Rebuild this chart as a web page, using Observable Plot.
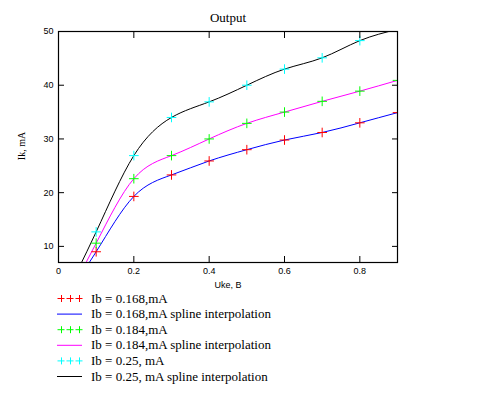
<!DOCTYPE html>
<html><head><meta charset="utf-8">
<script src="https://cdn.jsdelivr.net/npm/d3@7"></script>
<script src="https://cdn.jsdelivr.net/npm/@observablehq/plot@0.6"></script>
<style>
body{margin:0;background:#fff}
#chart{position:relative;width:484px;height:395px;background:#fff}
</style>
</head><body><div id="chart"></div>
<script>
// Uke, B
const uke = [0, 0.1, 0.2, 0.3, 0.4, 0.5, 0.6, 0.7, 0.8, 0.9];
// Ik, mA (first value lies below the visible range; estimated from where the curve leaves the frame)
const ik168 = [-1.4, 9.0, 19.3, 23.3, 25.9, 28.0, 29.8, 31.2, 33.0, 34.9];
const ik184 = [-2.5, 10.6, 22.6, 26.9, 30.0, 32.9, 35.0, 37.0, 38.9, 40.9];
const ik250 = [-1.6, 12.7, 26.9, 34.0, 36.9, 40.0, 43.0, 45.1, 48.3, 50.4];
const seriesIb = ["0.168,", "0.184,", "0.25, "];
const pointColors = ["#ff0000", "#00ff00", "#00ffff"];
const lineColors = ["#0000ff", "#ff00ff", "#000000"];
const xTicks = [0, 0.2, 0.4, 0.6, 0.8];
const yTicks = [10, 20, 30, 40, 50];
const xDomain = [0, 0.9];
const yDomain = [7, 50];
const titleText = "Output";
const xLabel = "Uke, B";
const yLabel = "Ik, mA";

const allSeries = [ik168, ik184, ik250];
const rows = [];
allSeries.forEach((s, k) => s.forEach((v, i) => rows.push({k, x: uke[i], y: v})));

const noText = () => "";
const plot = Plot.plot({
  width: 484, height: 395,
  marginLeft: 58, marginRight: 87, marginTop: 31, marginBottom: 133,
  style: {fontFamily: "Liberation Sans, Arial, sans-serif", fontSize: "9px", background: "#fff", color: "#000"},
  x: {domain: xDomain},
  y: {domain: yDomain},
  marks: [
    ...allSeries.map((s, k) => Plot.line(rows.filter(r => r.k === k), {x: "x", y: "y", stroke: lineColors[k], strokeWidth: 1, curve: "natural", clip: true})),
    ...allSeries.map((s, k) => Plot.dot(rows.filter(r => r.k === k), {x: "x", y: "y", symbol: "plus", r: 3.2, stroke: pointColors[k], strokeWidth: 1, clip: true})),
    Plot.frame({stroke: "#000", strokeWidth: 1.2}),
    Plot.axisX(xTicks, {anchor: "bottom", tickSize: 0, tickPadding: 5, tickFormat: d => String(d), label: null, fill: "#000"}),
    Plot.axisX(xTicks.filter(d => d > 0), {anchor: "bottom", tickSize: -6, tickFormat: noText, label: null, stroke: "#000"}),
    Plot.axisX(xTicks.filter(d => d > 0), {anchor: "top", tickSize: -6, tickFormat: noText, label: null, stroke: "#000"}),
    Plot.axisY(yTicks, {anchor: "left", tickSize: 0, tickPadding: 5, label: null, fill: "#000"}),
    Plot.axisY(yTicks.filter(d => d < 50), {anchor: "left", tickSize: -6, tickFormat: noText, label: null, stroke: "#000"}),
    Plot.axisY(yTicks.filter(d => d < 50), {anchor: "right", tickSize: -6, tickFormat: noText, label: null, stroke: "#000"})
  ]
});
document.getElementById("chart").appendChild(plot);

const svg = d3.select(plot);
svg.append("text").attr("x", 228).attr("y", 22).attr("text-anchor", "middle")
  .attr("font-family", "Liberation Serif, Times New Roman, serif").attr("font-size", 13).attr("fill", "#000").text(titleText);
svg.append("text").attr("x", 228).attr("y", 288).attr("text-anchor", "middle")
  .attr("font-family", "Liberation Sans, Arial, sans-serif").attr("font-size", 9).attr("fill", "#000").text(xLabel);
svg.append("text").attr("transform", "translate(25,146) rotate(-90)").attr("text-anchor", "middle")
  .attr("font-family", "Liberation Serif, Times New Roman, serif").attr("font-size", 10).attr("fill", "#000").text(yLabel);

// legend
const legendItems = [];
seriesIb.forEach((ib, k) => {
  legendItems.push({type: "points", color: pointColors[k], label: `Ib = ${ib}mA`});
  legendItems.push({type: "line", color: lineColors[k], label: `Ib = ${ib}mA spline interpolation`});
});
const lg = svg.append("g").attr("text-anchor", "start");
legendItems.forEach((it, i) => {
  const y = 298 + 15.6 * i;
  if (it.type === "points") {
    [61, 70, 79].forEach(cx => {
      lg.append("path").attr("d", `M${cx - 3.5},${y + 0.5}h7M${cx + 0.5},${y - 3}v7`).attr("stroke", it.color).attr("fill", "none");
    });
  } else {
    lg.append("line").attr("x1", 57).attr("x2", 82).attr("y1", y + 0.5).attr("y2", y + 0.5).attr("stroke", it.color);
  }
  lg.append("text").attr("x", 91).attr("y", y + 4.5).attr("text-anchor", "start").attr("font-family", "Liberation Serif, Times New Roman, serif")
    .attr("font-size", 13).attr("fill", "#000").style("white-space", "pre").text(it.label);
});
</script>
</body></html>
